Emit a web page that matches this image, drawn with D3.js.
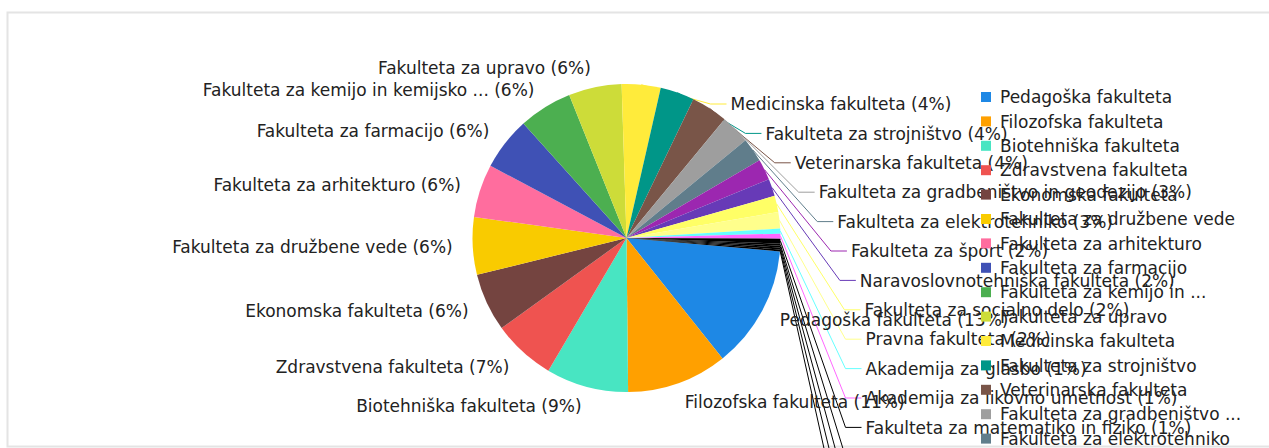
<!DOCTYPE html>
<html>
<head>
<meta charset="utf-8">
<script src="https://cdn.jsdelivr.net/npm/d3@7/dist/d3.min.js"></script>
<style>
  body { margin: 0; background: #fff; }
  text { font-family: "DejaVu Sans", sans-serif; fill: #222; }
</style>
</head>
<body>
<svg id="chart" width="1269" height="448"></svg>
<script>
// Members of the university (slice order = legend order)
const names = [
    'Pedagoška fakulteta',
    'Filozofska fakulteta',
    'Biotehniška fakulteta',
    'Zdravstvena fakulteta',
    'Ekonomska fakulteta',
    'Fakulteta za družbene vede',
    'Fakulteta za arhitekturo',
    'Fakulteta za farmacijo',
    'Fakulteta za kemijo in kemijsko tehnologijo',
    'Fakulteta za upravo',
    'Medicinska fakulteta',
    'Fakulteta za strojništvo',
    'Veterinarska fakulteta',
    'Fakulteta za gradbeništvo in geodezijo',
    'Fakulteta za elektrotehniko',
    'Fakulteta za šport',
    'Naravoslovnotehniška fakulteta',
    'Fakulteta za socialno delo',
    'Pravna fakulteta',
    'Akademija za glasbo',
    'Akademija za likovno umetnost',
    'Fakulteta za matematiko in fiziko',
    'Fakulteta za pomorstvo in promet',
    'Fakulteta za računalništvo in informatiko',
    'Teološka fakulteta',
    'Akademija za gledališče, radio, film in televizijo'
];

// Shares
const values = [
    12.9, 10.55, 8.64, 6.58, 6.11, 6.03, 5.58, 5.56, 5.61, 5.56,
    4.08, 3.58, 3.83, 3.08, 2.53, 2.19, 1.81, 1.72, 1.72, 0.52,
    0.52, 0.52, 0.2, 0.2, 0.2, 0.2
];

// Only 21 colours are given, the rest of the slices end up black
const colors = [
    '#1e88e5', '#ffa000', '#48e5c2', '#ef5350', '#744440',
    '#f9cb00', '#ff6d9e', '#3f51b5', '#4caf50', '#cddc39',
    '#ffeb3b', '#009688', '#795548', '#9e9e9e', '#607d8b',
    '#9c27b0', '#673ab7', '#ffff66', '#ffff8c', '#66ffff',
    '#ff66ff'
];

const width = 1269, height = 448;
const cx = 626.5, cy = 238, radius = 154;
const fontSize = 17;

const svg = d3.select('#chart');

// Light frame round the chart area
svg.append('rect')
    .attr('x', 7.5).attr('y', 12.5)
    .attr('width', 1300).attr('height', 434)
    .attr('fill', 'none')
    .attr('stroke', '#e4e4e4')
    .attr('stroke-width', 2);

// Cut a long name at a word and add " ..."
function shorten(name, maxLen) {
    if (name.length <= maxLen) return name;
    const words = name.split(' ');
    let out = words[0];
    for (let i = 1; i < words.length; i++) {
        const next = out + ' ' + words[i];
        if (next.length + 4 > maxLen) break;
        out = next;
    }
    return out + ' ...';
}

const total = d3.sum(values);
const data = names.map((name, i) => ({
    name: name,
    value: values[i],
    color: colors[i] || '#000',
    share: values[i] / total
}));

const startAngle = 95 * Math.PI / 180;
const pie = d3.pie()
    .sort(null)
    .value(d => d.value)
    .startAngle(startAngle)
    .endAngle(startAngle + 2 * Math.PI);

const arcs = pie(data);
const arc = d3.arc().innerRadius(0).outerRadius(radius);

const g = svg.append('g').attr('transform', `translate(${cx},${cy})`);

// Label placement: big slices sit next to their slice,
// small right-hand ones are stacked in a column with leader lines
const labelRadius = radius + 20;
const stackTop = -134, stackStep = 29.4;
function stackX(dy) {
    const t = Math.max(0, 97 - dy) / 231;
    return 239 - 135 * Math.pow(t, 2.2);
}

let stacked = 0;
arcs.forEach(a => {
    const mid = (a.startAngle + a.endAngle) / 2;
    const s = Math.sin(mid), c = -Math.cos(mid);
    a.edge = [radius * s, radius * c];
    if (a.data.share < 0.05 && s > 0) {
        const y = stackTop + stacked * stackStep;
        const x = stackX(y);
        a.label = [x, y];
        a.anchor = 'start';
        a.line = [a.edge, [x - 20, y], [x - 4, y]];
        stacked++;
    } else {
        a.label = [labelRadius * s, labelRadius * c];
        a.anchor = s >= 0 ? 'start' : 'end';
        a.line = null;
    }
});

// Leader lines go behind the pie
g.selectAll('.leader')
    .data(arcs.filter(a => a.line))
    .enter().append('polyline')
    .attr('class', 'leader')
    .attr('points', a => a.line.map(p => p.join(',')).join(' '))
    .attr('fill', 'none')
    .attr('stroke', a => a.data.color)
    .attr('stroke-width', 1);

g.selectAll('.slice')
    .data(arcs)
    .enter().append('path')
    .attr('class', 'slice')
    .attr('d', arc)
    .attr('fill', a => a.data.color);

const pct = d3.format('.0%');
g.selectAll('.label')
    .data(arcs)
    .enter().append('text')
    .attr('class', 'label')
    .attr('x', a => a.label[0])
    .attr('y', a => a.label[1])
    .attr('dy', '0.36em')
    .attr('text-anchor', a => a.anchor)
    .attr('font-size', fontSize)
    .text(a => `${shorten(a.data.name, 40)} (${pct(a.data.share)})`);

// Legend on the right
const legendX = 981, legendY = 97, legendStep = 24.4;
const legend = svg.append('g')
    .selectAll('g')
    .data(data)
    .enter().append('g')
    .attr('transform', (d, i) => `translate(${legendX},${legendY + i * legendStep})`);

legend.append('rect')
    .attr('x', 0).attr('y', -5)
    .attr('width', 10).attr('height', 10)
    .attr('fill', d => d.color);

legend.append('text')
    .attr('x', 19)
    .attr('dy', '0.36em')
    .attr('font-size', fontSize)
    .text(d => shorten(d.name, 29));
</script>
</body>
</html>
